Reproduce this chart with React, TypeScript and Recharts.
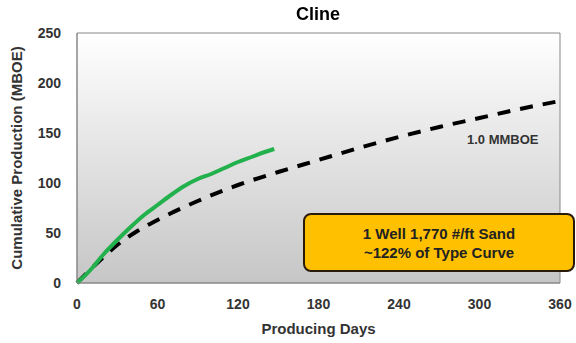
import React from "react";
import { LineChart, Line, XAxis, YAxis, ReferenceArea } from "recharts";

// type curve (1.0 MMBOE), days vs MBOE
const typeDays = [0, 15, 30, 45, 60, 90, 120, 150, 180, 210, 240, 270, 300, 330, 360];
const typeMboe = [0, 20, 38, 52, 63, 82, 98, 111, 123, 135, 146, 156, 165, 174, 182];

// actual well
const wellDays = [0, 10, 20, 30, 40, 50, 60, 70, 80, 90, 100, 110, 120, 130, 140, 147];
const wellMboe = [0, 13, 29, 43, 56, 68, 78, 88, 97, 104, 109, 115, 121, 126, 131, 134];

const xTicks = [0, 60, 120, 180, 240, 300, 360];
const yTicks = [0, 50, 100, 150, 200, 250];

const typeData = typeDays.map((d, i) => ({ x: d, y: typeMboe[i] }));
const wellData = wellDays.map((d, i) => ({ x: d, y: wellMboe[i] }));

const font = "'Liberation Sans', Arial, sans-serif";
const tickStyle = { fontSize: 14, fontWeight: 700, fill: "#333", fontFamily: font };
const labelStyle = { fontSize: 15, fontWeight: 700, fill: "#333", fontFamily: font };

export default function App() {
  return (
    <div style={{ position: "fixed", left: 0, top: 0, width: 576, height: 343, background: "#fff", fontFamily: font }}>
      <LineChart width={576} height={343} margin={{ top: 33, right: 16, bottom: 5, left: 0 }}>
        <defs>
          <linearGradient id="bg" x1="0" y1="0" x2="0" y2="1">
            <stop offset="0%" stopColor="#ffffff" />
            <stop offset="100%" stopColor="#c6c6c6" />
          </linearGradient>
        </defs>
        <XAxis
          type="number"
          dataKey="x"
          domain={[0, 360]}
          ticks={xTicks}
          height={55}
          tick={tickStyle}
          tickLine={false}
          axisLine={{ stroke: "#888" }}
          tickMargin={10}
          label={{ value: "Producing Days", position: "insideBottom", offset: 4, style: labelStyle }}
        />
        <YAxis
          type="number"
          dataKey="y"
          domain={[0, 250]}
          ticks={yTicks}
          width={77}
          tick={tickStyle}
          tickLine={false}
          axisLine={{ stroke: "#888" }}
          tickMargin={10}
          label={{ value: "Cumulative Production (MBOE)", angle: -90, position: "insideLeft", offset: 17, style: { ...labelStyle, textAnchor: "middle" } }}
        />
        <ReferenceArea x1={0} x2={360} y1={0} y2={250} fill="url(#bg)" fillOpacity={1} stroke="#888" ifOverflow="visible" />
        <Line
          data={typeData}
          dataKey="y"
          type="monotone"
          stroke="#000"
          strokeWidth={4}
          strokeDasharray="13 10"
          dot={false}
          isAnimationActive={false}
        />
        <Line
          data={wellData}
          dataKey="y"
          type="monotone"
          stroke="#22b14c"
          strokeWidth={4}
          dot={false}
          isAnimationActive={false}
        />
      </LineChart>
      <div style={{ position: "absolute", left: 0, width: 636, top: 4, textAlign: "center", fontSize: 18, fontWeight: 700, color: "#000" }}>
        Cline
      </div>
      <div style={{ position: "absolute", left: 467, top: 132, fontSize: 13, fontWeight: 700, color: "#333" }}>
        1.0 MMBOE
      </div>
      <div
        style={{
          position: "absolute",
          left: 303,
          top: 213,
          width: 268,
          height: 55,
          background: "#ffc000",
          border: "2px solid #2a1a0a",
          borderRadius: 8,
          display: "flex",
          flexDirection: "column",
          justifyContent: "center",
          alignItems: "center",
          fontSize: 15,
          fontWeight: 700,
          color: "#222",
          lineHeight: "19px",
        }}
      >
        <div>1 Well 1,770 #/ft Sand</div>
        <div>~122% of Type Curve</div>
      </div>
    </div>
  );
}
